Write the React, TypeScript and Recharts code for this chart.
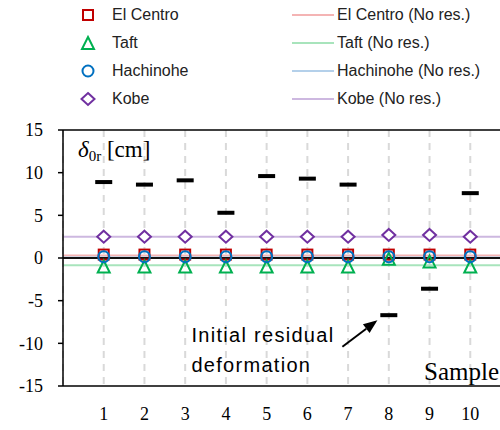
import {
  CartesianGrid,
  ReferenceLine,
  Scatter,
  ScatterChart,
  XAxis,
  YAxis,
} from "recharts";

const samples = [1, 2, 3, 4, 5, 6, 7, 8, 9, 10];
const elCentro = [0.4, 0.4, 0.4, 0.4, 0.4, 0.4, 0.4, 0.4, 0.4, 0.4];
const taft = [-1.0, -1.0, -1.0, -1.0, -1.0, -1.0, -1.0, -0.1, -0.4, -1.0];
const hachinohe = [0.15, 0.15, 0.15, 0.15, 0.15, 0.15, 0.15, 0.15, 0.15, 0.15];
const kobe = [2.5, 2.5, 2.5, 2.5, 2.5, 2.5, 2.5, 2.7, 2.7, 2.5];
const initialResidual = [8.9, 8.6, 9.1, 5.3, 9.6, 9.3, 8.6, -6.7, -3.6, 7.6];

// horizontal "No res." levels: El Centro, Taft, Hachinohe, Kobe
const noResLevels = [0.3, -0.85, 0.05, 2.5];

const yTicks = [-15, -10, -5, 0, 5, 10, 15];
const arrowFrom = { x: 6.86, y: -10.4 };
const arrowTo = { x: 7.72, y: -7.3 };

const seriesNames = ["El Centro", "Taft", "Hachinohe", "Kobe"];
const markerKinds = ["square", "triangle", "circle", "diamond"];
const markerColors = ["#c00000", "#00b050", "#0070c0", "#7030a0"];
const lineColors = ["#f4b4b4", "#a8e4bc", "#b4d0ea", "#cdb8e0"];

const toPoints = (values: number[]) =>
  samples.map((s, i) => ({ x: s, y: values[i] }));

const seriesValues = [elCentro, taft, hachinohe, kobe];

function Marker({ cx, cy, kind, color }: any) {
  if (cx == null || cy == null) return null;
  switch (kind) {
    case "square":
      return (
        <rect x={cx - 5} y={cy - 5} width={10} height={10} fill="none" stroke={color} strokeWidth={2} />
      );
    case "triangle":
      return (
        <polygon
          points={`${cx},${cy - 6} ${cx + 6},${cy + 6} ${cx - 6},${cy + 6}`}
          fill="none"
          stroke={color}
          strokeWidth={2}
        />
      );
    case "circle":
      return <circle cx={cx} cy={cy} r={5.5} fill="none" stroke={color} strokeWidth={2} />;
    case "diamond":
      return (
        <polygon
          points={`${cx},${cy - 6} ${cx + 6.5},${cy} ${cx},${cy + 6} ${cx - 6.5},${cy}`}
          fill="#fff"
          stroke={color}
          strokeWidth={2}
        />
      );
    default:
      return <rect x={cx - 8.5} y={cy - 2} width={17} height={4} fill="#000" />;
  }
}

function Arrow({ x1, y1, x2, y2 }: any) {
  const ang = Math.atan2(y2 - y1, x2 - x1);
  const len = 14;
  const w = 5.5;
  const bx = x2 - len * Math.cos(ang);
  const by = y2 - len * Math.sin(ang);
  const px = -Math.sin(ang) * w;
  const py = Math.cos(ang) * w;
  const font = { fontFamily: "Liberation Sans", fontSize: 20, fill: "#000", letterSpacing: 1.3 };
  return (
    <g>
      <line x1={x1} y1={y1} x2={bx} y2={by} stroke="#000" strokeWidth={2} />
      <polygon points={`${x2},${y2} ${bx + px},${by + py} ${bx - px},${by - py}`} fill="#000" />
      <text x={x1 - 151} y={y1 - 5} {...font}>Initial residual</text>
      <text x={x1 - 151} y={y1 + 25} {...font}>deformation</text>
    </g>
  );
}

function Legend() {
  const font = { fontFamily: "Liberation Sans", fontSize: 16, color: "#222" };
  return (
    <div style={{ position: "absolute", left: 0, top: 0, width: 500, height: 120 }}>
      {seriesNames.map((name, i) => {
        const top = 15 + i * 28;
        return (
          <div key={name}>
            <svg style={{ position: "absolute", left: 80, top: top - 8 }} width={16} height={16}>
              <Marker cx={8} cy={8} kind={markerKinds[i]} color={markerColors[i]} />
            </svg>
            <span style={{ ...font, position: "absolute", left: 112, top: top - 10, lineHeight: "20px" }}>
              {name}
            </span>
            <svg style={{ position: "absolute", left: 292, top: top - 2 }} width={42} height={4}>
              <line x1={0} y1={2} x2={42} y2={2} stroke={lineColors[i]} strokeWidth={2} />
            </svg>
            <span style={{ ...font, position: "absolute", left: 337, top: top - 10, lineHeight: "20px" }}>
              {name} (No res.)
            </span>
          </div>
        );
      })}
    </div>
  );
}

const tickFont = { fill: "#000", fontSize: 18, fontFamily: "Liberation Serif" };

export default function App() {
  return (
    <div
      style={{
        position: "fixed",
        left: 0,
        top: 0,
        width: 500,
        height: 430,
        overflow: "hidden",
        background: "#fff",
      }}
    >
      <Legend />
      <ScatterChart
        width={520}
        height={430}
        margin={{ top: 130, right: 9, bottom: 14, left: 0 }}
        style={{ position: "absolute", left: 0, top: 0 }}
      >
        <CartesianGrid horizontal={false} stroke="#d9d9d9" strokeWidth={2} strokeDasharray="7 6" />
        <XAxis
          type="number"
          dataKey="x"
          domain={[0, 11]}
          ticks={samples}
          height={30}
          tickLine={false}
          tickSize={6}
          tickMargin={15}
          axisLine={{ stroke: "#000", strokeWidth: 1.5 }}
          tick={tickFont}
          label={{
            content: ({ viewBox }: any) => (
              <text
                x={viewBox.x + viewBox.width - 87}
                y={viewBox.y - 6}
                fontFamily="Liberation Serif"
                fontSize={25}
                fill="#000"
              >
                Sample
              </text>
            ),
          }}
        />
        <YAxis
          type="number"
          dataKey="y"
          domain={[-15, 15]}
          ticks={yTicks}
          width={63}
          tickSize={5}
          tickMargin={15}
          tickLine={{ stroke: "#000", strokeWidth: 1.5 }}
          axisLine={{ stroke: "#000", strokeWidth: 1.5 }}
          tick={tickFont}
          label={{
            content: ({ viewBox }: any) => (
              <text
                x={viewBox.x + viewBox.width + 15}
                y={viewBox.y + 27}
                fontFamily="Liberation Serif"
                fontSize={23}
                fill="#000"
              >
                <tspan fontStyle="italic">δ</tspan>
                <tspan fontSize={15} dy={4}>0r</tspan>
                <tspan dy={-4}> [cm]</tspan>
              </text>
            ),
          }}
        />
        <ReferenceLine y={15} stroke="#000" strokeWidth={1.5} />
        <ReferenceLine x={11} stroke="#000" strokeWidth={1.5} />
        {noResLevels.map((v, i) => (
          <ReferenceLine key={`nr${i}`} y={v} stroke={lineColors[i]} strokeWidth={2} />
        ))}
        <ReferenceLine y={0} stroke="#111" strokeWidth={1.8} />
        {seriesNames.map((name, i) => (
          <Scatter
            key={name}
            name={name}
            data={toPoints(seriesValues[i])}
            isAnimationActive={false}
            shape={(p: any) => <Marker cx={p.cx} cy={p.cy} kind={markerKinds[i]} color={markerColors[i]} />}
          />
        ))}
        <Scatter
          name="Initial residual deformation"
          data={toPoints(initialResidual)}
          isAnimationActive={false}
          shape={(p: any) => <Marker cx={p.cx} cy={p.cy} kind="dash" />}
        />
        <ReferenceLine segment={[arrowFrom, arrowTo]} shape={(p: any) => <Arrow {...p} />} />
      </ScatterChart>
    </div>
  );
}
